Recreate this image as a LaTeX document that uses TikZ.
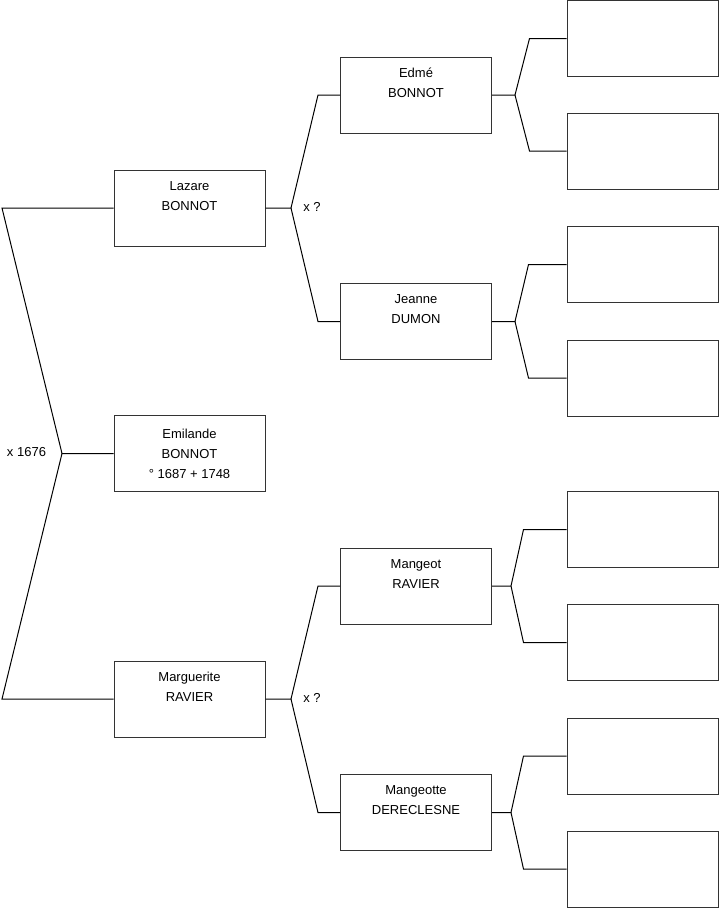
\documentclass[tikz,border=0pt]{standalone}
\usepackage{fontspec}
\setmainfont{Liberation Sans}
\usepackage{tikz}
\usetikzlibrary{calc}

\begin{document}
\begin{tikzpicture}[
  x=0.75pt,y=-0.75pt,
  every node/.style={font=\fontsize{9.75}{15}\selectfont},
  person/.style={draw=black!80,line width=0.75pt,rectangle,inner sep=0pt,
                 minimum width=113.25pt,minimum height=57pt,align=center},
  link/.style={line width=0.75pt,black},
  union/.style={inner sep=0pt},
]
\useasboundingbox (0,0) rectangle (719,908);

%% -- Emilande and parents ------------------------------------------------
\node[person] (emilande)   at (189.5,453.5) {Emilande\\BONNOT\\° 1687 + 1748};
\node[person] (lazare)     at (189.5,208)   {Lazare\\BONNOT\\[3pt]~};
\node[person] (marguerite) at (189.5,699)   {Marguerite\\RAVIER\\[3pt]~};

%% -- grandparents ---------------------------------------------------------
\node[person] (edme)      at (416,95)    {Edmé\\BONNOT\\[3pt]~};
\node[person] (jeanne)    at (416,321.5) {Jeanne\\DUMON\\[3pt]~};
\node[person] (mangeot)   at (416,586)   {Mangeot\\RAVIER\\[3pt]~};
\node[person] (mangeotte) at (416,812.5) {Mangeotte\\DERECLESNE\\[3pt]~};

%% -- great-grandparents (unknown) -----------------------------------------
\node[person] (edmeF)      at (642.5,38.5)  {};
\node[person] (edmeM)      at (642.5,151)   {};
\node[person] (jeanneF)    at (642.5,264.5) {};
\node[person] (jeanneM)    at (642.5,378)   {};
\node[person] (mangeotF)   at (642.5,529.5) {};
\node[person] (mangeotM)   at (642.5,642.5) {};
\node[person] (mangeotteF) at (642.5,756)   {};
\node[person] (mangeotteM) at (642.5,869)   {};

%% -- marriage points ------------------------------------------------------
\coordinate (uRoot)      at (62,453.5);
\coordinate (uLazare)    at (291,208);
\coordinate (uMarguerite) at (291,699);
\coordinate (uEdme)      at (515,95);
\coordinate (uJeanne)    at (515,321.5);
\coordinate (uMangeot)   at (511,586);
\coordinate (uMangeotte) at (511,812.5);

%% -- connections ----------------------------------------------------------
\draw[link] (emilande.west) -- (uRoot) -- (2,208) -- (lazare.west);
\draw[link] (uRoot) -- (2,699) -- (marguerite.west);

\draw[link] (lazare.east) -- (uLazare) -- ($(edme.west)+(-22,0)$) -- (edme.west);
\draw[link] (uLazare) -- ($(jeanne.west)+(-22,0)$) -- (jeanne.west);

\draw[link] (marguerite.east) -- (uMarguerite) -- ($(mangeot.west)+(-22,0)$) -- (mangeot.west);
\draw[link] (uMarguerite) -- ($(mangeotte.west)+(-22,0)$) -- (mangeotte.west);

\draw[link] (edme.east) -- (uEdme) -- ($(edmeF.west)+(-37,0)$) -- (edmeF.west);
\draw[link] (uEdme) -- ($(edmeM.west)+(-37,0)$) -- (edmeM.west);

\draw[link] (jeanne.east) -- (uJeanne) -- ($(jeanneF.west)+(-38,0)$) -- (jeanneF.west);
\draw[link] (uJeanne) -- ($(jeanneM.west)+(-38,0)$) -- (jeanneM.west);

\draw[link] (mangeot.east) -- (uMangeot) -- ($(mangeotF.west)+(-43,0)$) -- (mangeotF.west);
\draw[link] (uMangeot) -- ($(mangeotM.west)+(-43,0)$) -- (mangeotM.west);

\draw[link] (mangeotte.east) -- (uMangeotte) -- ($(mangeotteF.west)+(-43,0)$) -- (mangeotteF.west);
\draw[link] (uMangeotte) -- ($(mangeotteM.west)+(-43,0)$) -- (mangeotteM.west);

%% -- marriage labels ------------------------------------------------------
\node[union] (mRoot)       at (26.5,452) {x 1676};
\node[union] (mLazare)     at (312,207)  {x ?};
\node[union] (mMarguerite) at (312,698)  {x ?};

\end{tikzpicture}
\end{document}
